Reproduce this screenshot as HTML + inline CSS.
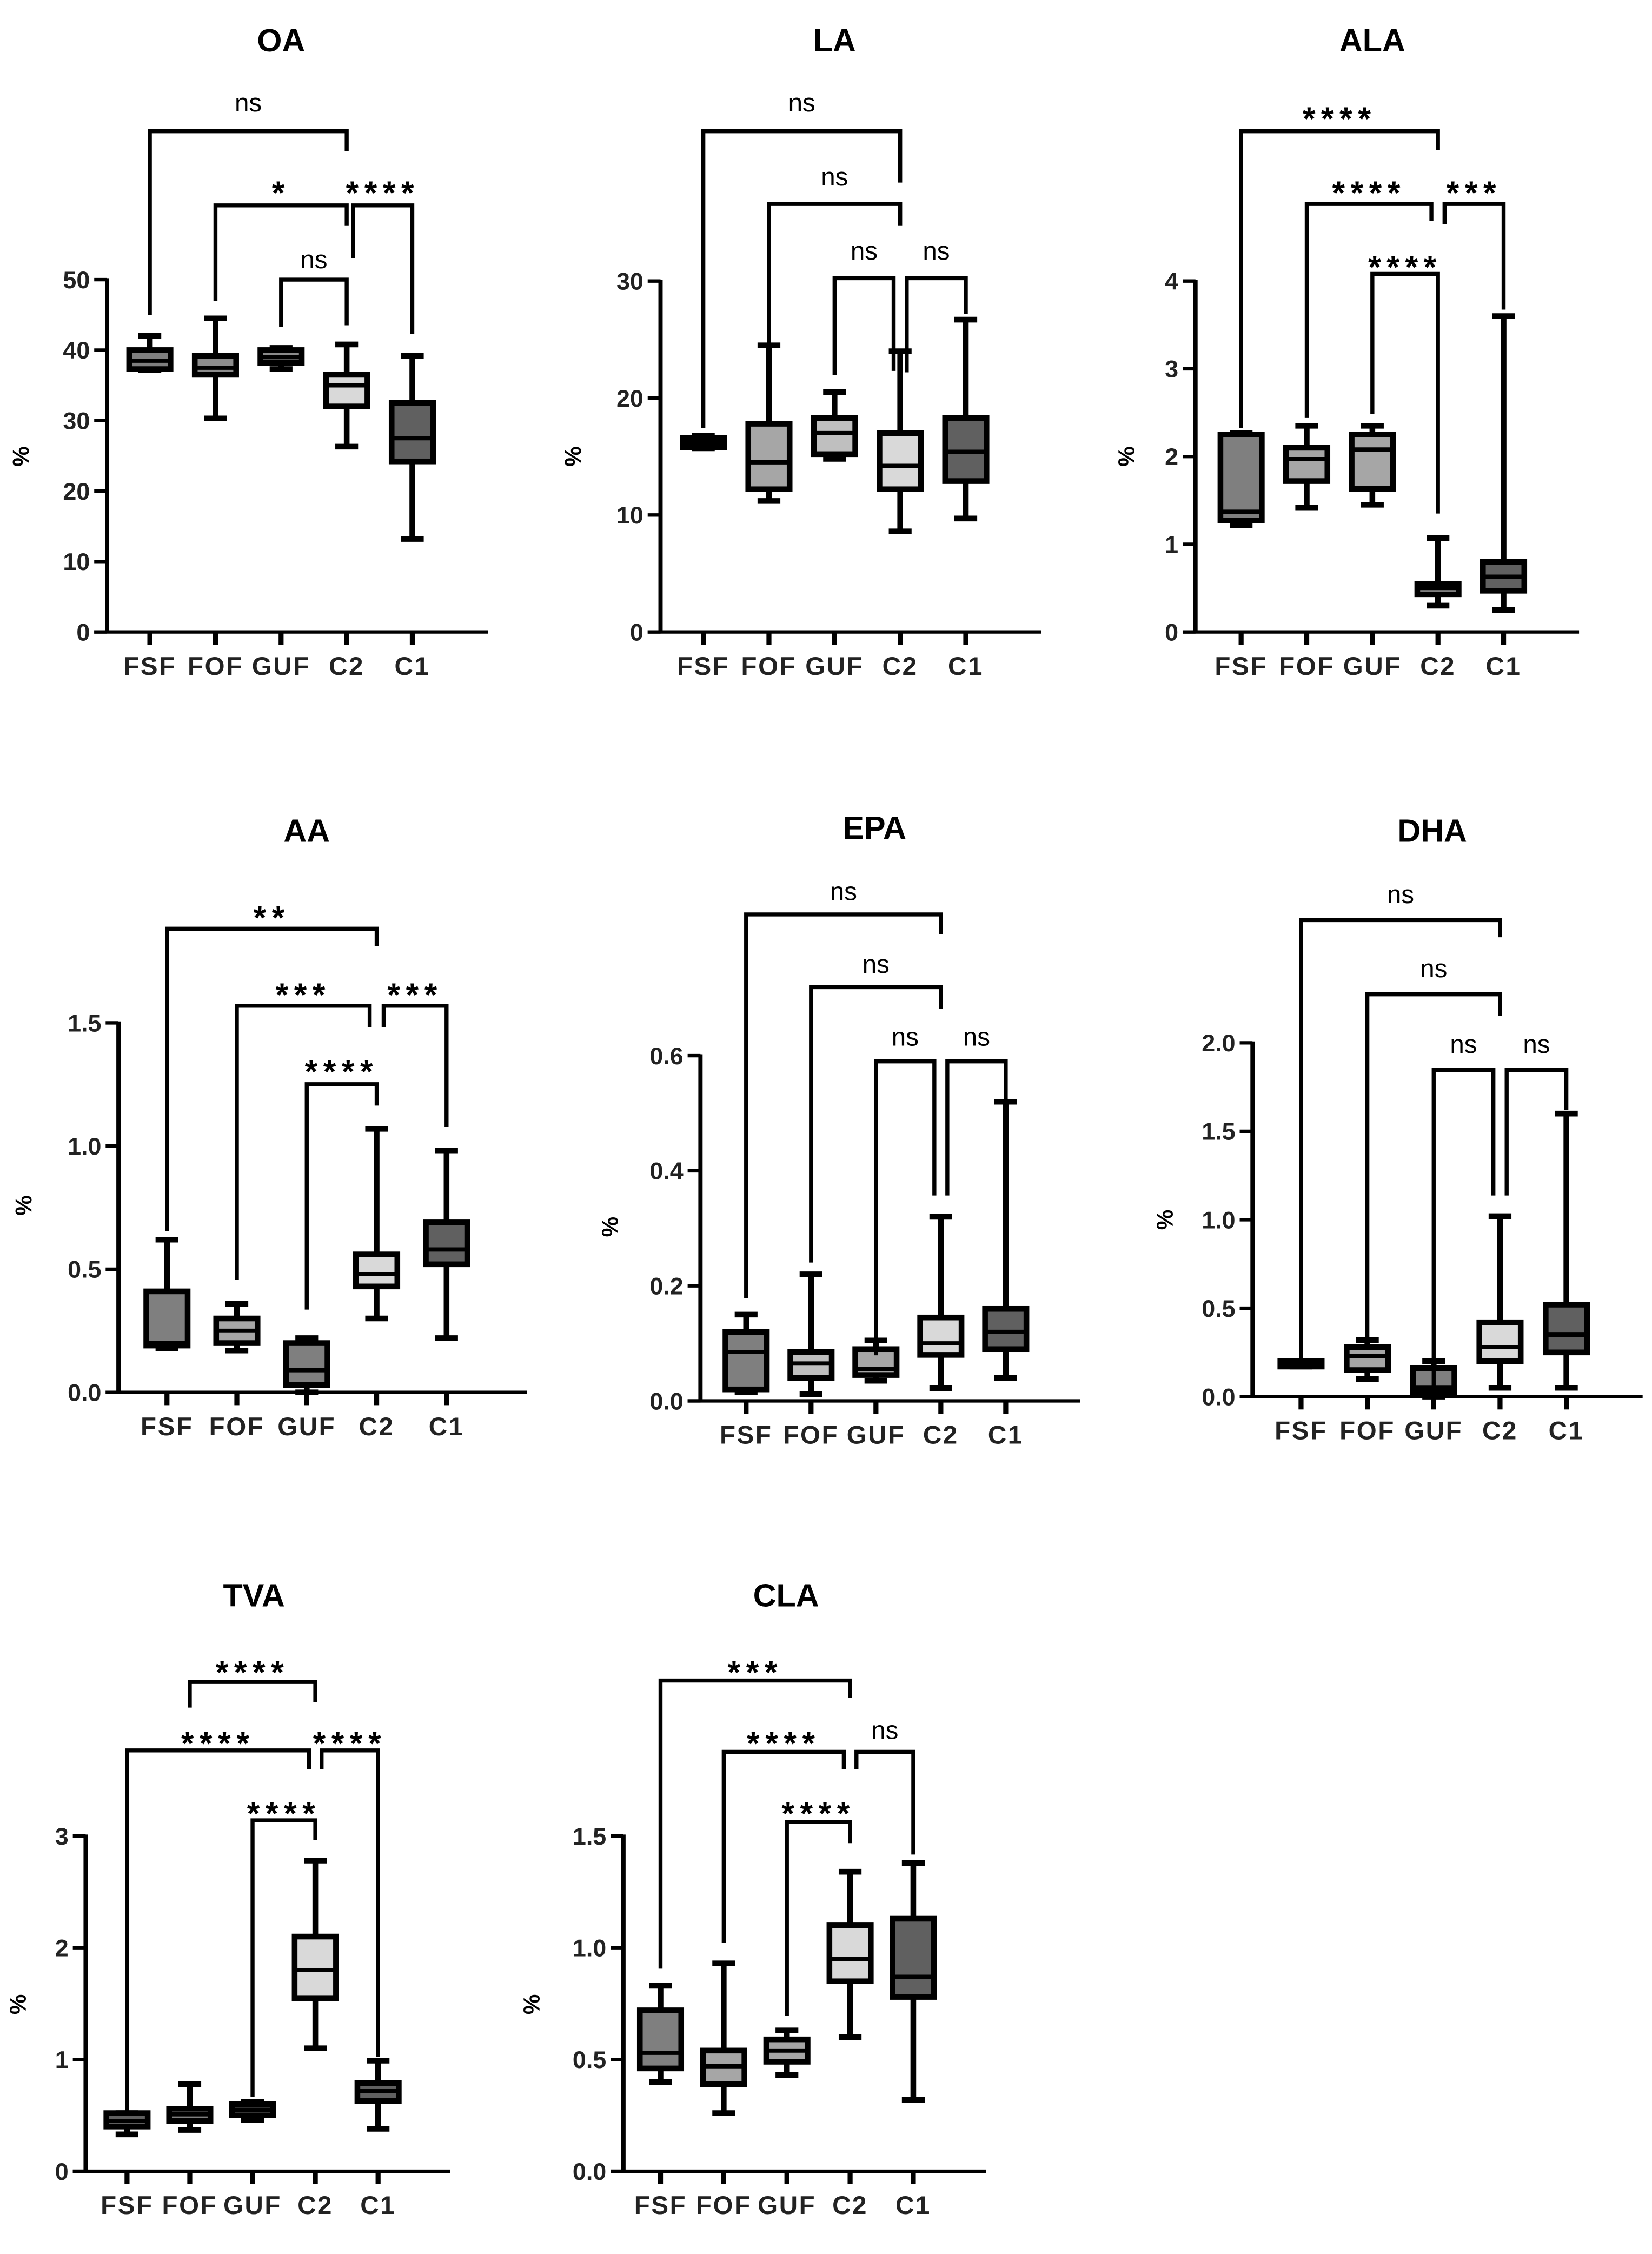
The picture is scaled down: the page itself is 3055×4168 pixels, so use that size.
<!DOCTYPE html>
<html><head><meta charset="utf-8"><style>
html,body{margin:0;padding:0;background:#fff}
svg{display:block}
text{font-family:"Liberation Sans",sans-serif}
</style></head><body>
<svg id="fig" xmlns="http://www.w3.org/2000/svg" width="3055" height="4168" viewBox="0 0 1158 1580"></svg>
<script>
const categories = ["FSF","FOF","GUF","C2","C1"];

const oaLow=[37.2,30.3,37.3,26.3,13.2], oaQ1=[37.3,36.5,38.2,32,24.2], oaMed=[38.5,37.5,39,35,27.5], oaQ3=[40,39.2,40,36.5,32.5], oaHigh=[42,44.5,40.3,40.8,39.2];
const oaTicks=["0","10","20","30","40","50"];
const laLow=[15.7,11.2,14.8,8.6,9.7], laQ1=[15.8,12.2,15.2,12.2,12.9], laMed=[16.2,14.5,17,14.2,15.4], laQ3=[16.6,17.8,18.3,17,18.3], laHigh=[16.8,24.5,20.5,24,26.7];
const laTicks=["0","10","20","30"];
const alaLow=[1.22,1.42,1.45,0.3,0.25], alaQ1=[1.27,1.72,1.63,0.43,0.47], alaMed=[1.37,1.97,2.08,0.5,0.63], alaQ3=[2.25,2.1,2.25,0.55,0.8], alaHigh=[2.27,2.35,2.35,1.07,3.6];
const alaTicks=["0","1","2","3","4"];
const aaLow=[0.18,0.17,0.0,0.3,0.22], aaQ1=[0.19,0.2,0.03,0.43,0.52], aaMed=[0.2,0.25,0.09,0.48,0.58], aaQ3=[0.41,0.3,0.2,0.56,0.69], aaHigh=[0.62,0.36,0.22,1.07,0.98];
const aaTicks=["0.0","0.5","1.0","1.5"];
const epaLow=[0.015,0.012,0.035,0.022,0.04], epaQ1=[0.02,0.04,0.045,0.08,0.09], epaMed=[0.085,0.065,0.055,0.1,0.12], epaQ3=[0.12,0.085,0.09,0.145,0.16], epaHigh=[0.15,0.22,0.105,0.32,0.52];
const epaTicks=["0.0","0.2","0.4","0.6"];
const dhaLow=[0.17,0.1,0.0,0.05,0.05], dhaQ1=[0.17,0.15,0.02,0.2,0.25], dhaMed=[0.19,0.23,0.05,0.28,0.35], dhaQ3=[0.2,0.28,0.16,0.42,0.52], dhaHigh=[0.2,0.32,0.2,1.02,1.6];
const dhaTicks=["0.0","0.5","1.0","1.5","2.0"];
const tvaLow=[0.33,0.37,0.46,1.1,0.38], tvaQ1=[0.4,0.45,0.5,1.55,0.63], tvaMed=[0.45,0.51,0.55,1.8,0.72], tvaQ3=[0.52,0.56,0.6,2.1,0.79], tvaHigh=[0.52,0.78,0.62,2.78,0.99];
const tvaTicks=["0","1","2","3"];
const claLow=[0.4,0.26,0.43,0.6,0.32], claQ1=[0.46,0.39,0.49,0.85,0.78], claMed=[0.53,0.47,0.54,0.95,0.87], claQ3=[0.72,0.54,0.59,1.1,1.13], claHigh=[0.83,0.93,0.63,1.34,1.38];
const claTicks=["0.0","0.5","1.0","1.5"];

const NS="http://www.w3.org/2000/svg";
const svg=document.getElementById('fig');
function mk(tag,attrs,parent){const e=document.createElementNS(NS,tag);for(const k in attrs)e.setAttribute(k,attrs[k]);(parent||svg).appendChild(e);return e;}

const panels=[
 {key:"oa",title:"OA",tx:197,ty:36,ax:75,y0:443,yt:196,max:50,cx:105,dx:46,lx:20,ly:320,lo:oaLow,q1:oaQ1,md:oaMed,q3:oaQ3,hi:oaHigh,ticks:oaTicks,fills:["#7f7f7f","#8c8c8c","#8c8c8c","#d9d9d9","#606060"],
  br:[[0,3,92,221,106,"ns",72],[1,3,144,211,158,"*",130],[3.1,4,144,181,234,"****",130],[2,3,196,229,228,"ns",182]]},
 {key:"la",title:"LA",tx:585,ty:36,ax:463,y0:443,yt:197,max:30,cx:493,dx:46,lx:407,ly:320,lo:laLow,q1:laQ1,md:laMed,q3:laQ3,hi:laHigh,ticks:laTicks,fills:["#808080","#a6a6a6","#bfbfbf","#d9d9d9","#606060"],
  br:[[0,3,92,300,128,"ns",72],[1,3,143,290,158,"ns",124],[2,2.9,195,263,260,"ns",176],[3.1,4,195,261,220,"ns",176]]},
 {key:"ala",title:"ALA",tx:962,ty:36,ax:838,y0:443,yt:197,max:4,cx:870,dx:46,lx:795,ly:320,lo:alaLow,q1:alaQ1,md:alaMed,q3:alaQ3,hi:alaHigh,ticks:alaTicks,fills:["#7f7f7f","#a6a6a6","#a6a6a6","#d9d9d9","#606060"],
  br:[[0,3,92,300,105,"****",78],[1,2.9,143,293,155,"****",130],[3.1,4,143,157,217,"***",130],[2,3,192,290,360,"****",182]]},
 {key:"aa",title:"AA",tx:215,ty:590,ax:83,y0:976,yt:717,max:1.5,cx:117,dx:49,lx:22,ly:845,lo:aaLow,q1:aaQ1,md:aaMed,q3:aaQ3,hi:aaHigh,ticks:aaTicks,fills:["#7f7f7f","#a6a6a6","#7f7f7f","#d9d9d9","#606060"],
  br:[[0,3,651,863,663,"**",638],[1,2.9,705,897,720,"***",692],[3.1,4,705,720,790,"***",692],[2,3,760,918,775,"****",746]]},
 {key:"epa",title:"EPA",tx:613,ty:588,ax:491,y0:982,yt:740,max:0.6,cx:523,dx:45.5,lx:433,ly:860,lo:epaLow,q1:epaQ1,md:epaMed,q3:epaQ3,hi:epaHigh,ticks:epaTicks,fills:["#7f7f7f","#bfbfbf","#a6a6a6","#d9d9d9","#606060"],
  br:[[0,3,641,910,655,"ns",625],[1,3,692,885,707,"ns",676],[2,2.9,744,950,838,"ns",727],[3.1,4,744,838,775,"ns",727]]},
 {key:"dha",title:"DHA",tx:1004,ty:590,ax:878,y0:979,yt:731,max:2.0,cx:912,dx:46.5,lx:822,ly:855,lo:dhaLow,q1:dhaQ1,md:dhaMed,q3:dhaQ3,hi:dhaHigh,ticks:dhaTicks,fills:["#404040","#a6a6a6","#7f7f7f","#d9d9d9","#606060"],
  br:[[0,3,645,955,657,"ns",627],[1,3,697,940,712,"ns",679],[2,2.9,750,975,838,"ns",732],[3.1,4,750,838,778,"ns",732]]},
 {key:"tva",title:"TVA",tx:178,ty:1126,ax:60,y0:1522,yt:1287,max:3,cx:89,dx:44,lx:18,ly:1405,lo:tvaLow,q1:tvaQ1,md:tvaMed,q3:tvaQ3,hi:tvaHigh,ticks:tvaTicks,fills:["#606060","#808080","#808080","#d9d9d9","#606060"],
  br:[[1,3,1179,1197,1193,"****",1167],[0,2.9,1227,1480,1240,"****",1217],[3.1,4,1227,1240,1442,"****",1217],[2,3,1276,1470,1290,"****",1266]]},
 {key:"cla",title:"CLA",tx:551,ty:1126,ax:437,y0:1522,yt:1287,max:1.5,cx:463,dx:44.3,lx:378,ly:1405,lo:claLow,q1:claQ1,md:claMed,q3:claQ3,hi:claHigh,ticks:claTicks,fills:["#7f7f7f","#a6a6a6","#a6a6a6","#d9d9d9","#606060"],
  br:[[0,3,1178,1380,1190,"***",1167],[1,2.9,1228,1362,1240,"****",1217],[3.1,4,1228,1240,1300,"ns",1213],[2,3,1277,1413,1292,"****",1266]]}
];

panels.forEach(p=>{
  const g=mk('g',{});
  
  
  const Y=v=>p.y0-(v/p.max)*(p.y0-p.yt);
  const X=i=>p.cx+i*p.dx;
  const t=mk('text',{x:p.tx,y:p.ty,'text-anchor':'middle','font-size':22.5,'font-weight':'bold'},g);t.textContent=p.title;
  
  
  const yl=mk('text',{x:p.lx,y:p.ly,'text-anchor':'middle','font-size':16,'font-weight':'bold',transform:`rotate(-90 ${p.lx} ${p.ly})`},g);yl.textContent="%";
  
  
  const ya=mk('line',{x1:p.ax,y1:p.yt-1,x2:p.ax,y2:p.y0+1,stroke:'#000','stroke-width':3},g);
  
  
  const xEnd=X(4)+p.dx*1.15;
  const xa=mk('line',{x1:p.ax-9,y1:p.y0,x2:xEnd,y2:p.y0,stroke:'#000','stroke-width':2.4},g);
  
  
  const n=p.ticks.length;
  p.ticks.forEach((lab,i)=>{
    const v=p.max*i/(n-1), y=Y(v);
    mk('line',{x1:p.ax-9,y1:y,x2:p.ax,y2:y,stroke:'#000','stroke-width':2.4},g);
    const tl=mk('text',{x:p.ax-12,y:y+6,'text-anchor':'end','font-size':17,'font-weight':'bold',fill:'#222'},g);tl.textContent=lab;
    
    
  });
  categories.forEach((c,i)=>{
    const x=X(i);
    mk('line',{x1:x,y1:p.y0,x2:x,y2:p.y0+9,stroke:'#000','stroke-width':3.5},g);
    const cl=mk('text',{x:x,y:p.y0+30,'text-anchor':'middle','font-size':18,'font-weight':'bold','letter-spacing':'1',fill:'#222'},g);cl.textContent=c;
    
    
    const bg=mk('g',{},g);
    
    
    const hw=14.5, cw=8;
    mk('line',{x1:x,y1:Y(p.hi[i]),x2:x,y2:Y(p.lo[i]),stroke:'#000','stroke-width':4},bg);
    mk('line',{x1:x-cw,y1:Y(p.hi[i]),x2:x+cw,y2:Y(p.hi[i]),stroke:'#000','stroke-width':4},bg);
    mk('line',{x1:x-cw,y1:Y(p.lo[i]),x2:x+cw,y2:Y(p.lo[i]),stroke:'#000','stroke-width':4},bg);
    const yt=Y(p.q3[i]), yb=Y(p.q1[i]);
    mk('rect',{x:x-hw,y:yt,width:hw*2,height:Math.max(yb-yt,0.5),fill:p.fills[i],stroke:'#000','stroke-width':4},bg);
    mk('line',{x1:x-hw,y1:Y(p.md[i]),x2:x+hw,y2:Y(p.md[i]),stroke:'#000','stroke-width':3},bg);
  });
  p.br.forEach(b=>{
    const x1=X(b[0]), x2=X(b[1]);
    const bb=mk('path',{d:`M${x1},${b[3]} L${x1},${b[2]} L${x2},${b[2]} L${x2},${b[4]}`,fill:'none',stroke:'#000','stroke-width':2.8},g);
    
    
    const isStar=b[5]!=="ns";
    const lt=mk('text',{x:(x1+x2)/2,y:b[6]+(isStar?13:6),'text-anchor':'middle','font-size':isStar?23:18,'font-weight':isStar?'bold':'normal','letter-spacing':isStar?'4':'0'},g);
    lt.textContent=b[5];
    
    
  });
});
</script>
</body></html>
